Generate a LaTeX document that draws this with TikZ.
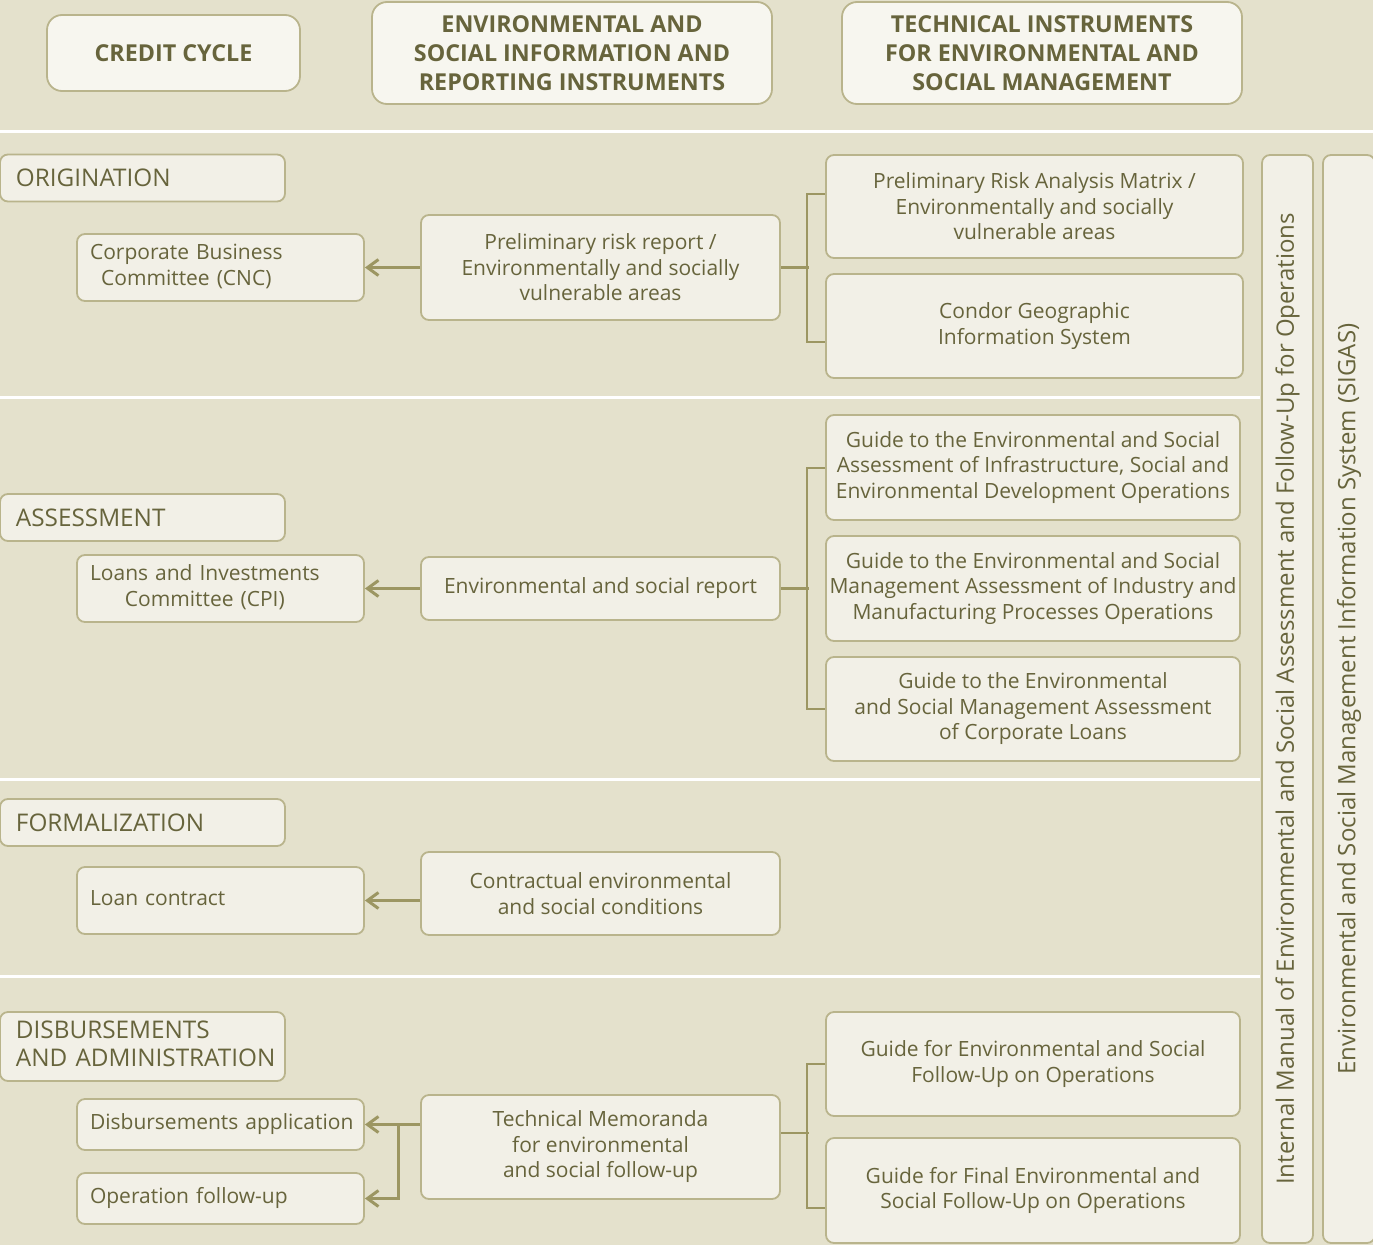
\documentclass[tikz,border=0pt]{standalone}
\usepackage{fontspec}
\setmainfont{Open Sans}
\usetikzlibrary{arrows.meta}
\definecolor{bgtan}{HTML}{E4E1CC}
\definecolor{boxfill}{HTML}{F2F0E7}
\definecolor{headfill}{HTML}{F7F6EF}
\definecolor{boxline}{HTML}{B9B48C}
\definecolor{txtolive}{HTML}{67643C}
\definecolor{lnolive}{HTML}{9C9662}
\newcommand{\ctr}[1]{\begin{tabular}{@{}c@{}}#1\end{tabular}}
\newcommand{\lft}[1]{\begin{tabular}{@{}l@{}}#1\end{tabular}}
\begin{document}
\begin{tikzpicture}[x=1pt, y=-1pt,
    every node/.style={text=txtolive},
    box/.style={draw=boxline, fill=boxfill, line width=1.8pt, rounded corners=8pt,
        align=center, font=\fontsize{21}{25.5}\selectfont},
    headbox/.style={box, fill=headfill, rounded corners=15pt,
        font=\fontsize{23.3}{29}\selectfont\bfseries},
    stagebox/.style={box, minimum width=285pt, text width=253pt, inner xsep=16pt,
        align=left, font=\fontsize{24.3}{28}\selectfont},
    leftbox/.style={box, minimum width=287pt, text width=261pt, inner xsep=13pt, align=left},
    midbox/.style={box, minimum width=359pt},
    rightbox/.style={box, minimum width=414pt},
    vbox/.style={box, rotate=90, minimum width=1088pt, font=\fontsize{24}{26}\selectfont},
    sep/.style={white, line width=3pt},
    arr/.style={lnolive, line width=3pt, -{Straight Barb[length=11pt, width=16pt]}},
    link/.style={lnolive, line width=2pt}]
    \useasboundingbox (0,0) rectangle (1373,1245);
    \fill[bgtan] (0,0) rectangle (1373,1245);

    % Separators between the stages
    \draw[sep] (0,131) -- (1373,131);
    \draw[sep] (0,397) -- (1260,397);
    \draw[sep] (0,779) -- (1260,779);
    \draw[sep] (0,976) -- (1260,976);

    % Column headers
    \node[headbox, minimum width=253pt, minimum height=76pt] (cc) at (173.5,53) {CREDIT CYCLE};
    \node[headbox, minimum width=400pt, minimum height=102pt] (info) at (572,53)
        {ENVIRONMENTAL AND\\SOCIAL INFORMATION AND\\REPORTING INSTRUMENTS};
    \node[headbox, minimum width=400pt, minimum height=102pt] (tech) at (1042,53)
        {TECHNICAL INSTRUMENTS\\FOR ENVIRONMENTAL AND\\SOCIAL MANAGEMENT};

    % Origination
    \node[stagebox, minimum height=47pt] (orig) at (142.5,178) {ORIGINATION};
    \node[leftbox, minimum height=67pt] (cnc) at (220.5,267.5) {\ctr{Corporate Business\\Committee (CNC)}};
    \node[midbox, minimum height=105pt] (prr) at (600.5,267.5)
        {Preliminary risk report /\\Environmentally and socially\\vulnerable areas};
    \node[box, minimum width=417pt, minimum height=103pt] (pram) at (1034.5,206.5)
        {Preliminary Risk Analysis Matrix /\\Environmentally and socially\\vulnerable areas};
    \node[box, minimum width=417pt, minimum height=104pt] (condor) at (1034.5,326)
        {Condor Geographic\\Information System};

    % Assessment
    \node[stagebox, minimum height=47pt] (assess) at (142.5,517.5) {ASSESSMENT};
    \node[leftbox, minimum height=67pt] (cpi) at (220.5,588.5) {\ctr{Loans and Investments\\Committee (CPI)}};
    \node[midbox, minimum height=63pt] (esr) at (600.5,588.5) {Environmental and social report};
    \node[rightbox, minimum height=105pt] (ginf) at (1033,467.5)
        {Guide to the Environmental and Social\\Assessment of Infrastructure, Social and\\Environmental Development Operations};
    \node[rightbox, minimum height=105pt] (gind) at (1033,588.5)
        {Guide to the Environmental and Social\\Management Assessment of Industry and\\Manufacturing Processes Operations};
    \node[rightbox, minimum height=104pt] (gcorp) at (1033,709)
        {Guide to the Environmental\\and Social Management Assessment\\of Corporate Loans};

    % Formalization
    \node[stagebox, minimum height=47pt] (formal) at (142.5,822.5) {FORMALIZATION};
    \node[leftbox, minimum height=67pt] (loan) at (220.5,900.5) {\ctr{Loan contract}};
    \node[midbox, minimum height=83pt] (ces) at (600.5,893.5)
        {Contractual environmental\\and social conditions};

    % Disbursements and administration
    \node[stagebox, minimum height=69pt] (disb) at (142.5,1046.5) {\lft{DISBURSEMENTS\\AND ADMINISTRATION}};
    \node[leftbox, minimum height=51pt] (dapp) at (220.5,1124.5) {\ctr{Disbursements application}};
    \node[leftbox, minimum height=51pt] (ofu) at (220.5,1198.5) {\ctr{Operation follow-up}};
    \node[midbox, minimum height=104pt] (tmm) at (600.5,1147)
        {Technical Memoranda\\for environmental\\and social follow-up};
    \node[rightbox, minimum height=104pt] (gfu) at (1033,1064)
        {Guide for Environmental and Social\\Follow-Up on Operations};
    \node[rightbox, minimum height=105pt] (gfin) at (1033,1190.5)
        {Guide for Final Environmental and\\Social Follow-Up on Operations};

    % Side systems
    \node[vbox, minimum height=51pt] (man) at (1287.5,699)
        {Internal Manual of Environmental and Social Assessment and Follow-Up for Operations};
    \node[vbox, minimum height=52pt] (sigas) at (1349,699)
        {Environmental and Social Management Information System (SIGAS)};

    % Arrows to the credit cycle
    \draw[arr] (prr.west |- cnc.east) -- (cnc.east);
    \draw[arr] (esr.west |- cpi.east) -- (cpi.east);
    \draw[arr] (ces.west |- loan.east) -- (loan.east);
    \draw[arr] (tmm.west |- dapp.east) -- (dapp.east);
    \draw[arr] (tmm.west |- dapp.east) -- ++(-22,0) |- (ofu.east);

    % Brackets to the technical instruments
    \draw[lnolive, line width=3pt] (prr.east) -- ++(28,0);
    \draw[link] ([yshift=12.5pt]pram.west) -- ++(-18,0) |- ([yshift=-16pt]condor.west);
    \draw[lnolive, line width=3pt] (esr.east) -- ++(28,0);
    \draw[link] (ginf.west) -- ++(-18,0) |- (gcorp.west);
    \draw[link] ([yshift=14pt]tmm.east) -- ++(28,0);
    \draw[link] (gfu.west) -- ++(-18,0) |- ([yshift=-17.5pt]gfin.west);
\end{tikzpicture}
\end{document}
